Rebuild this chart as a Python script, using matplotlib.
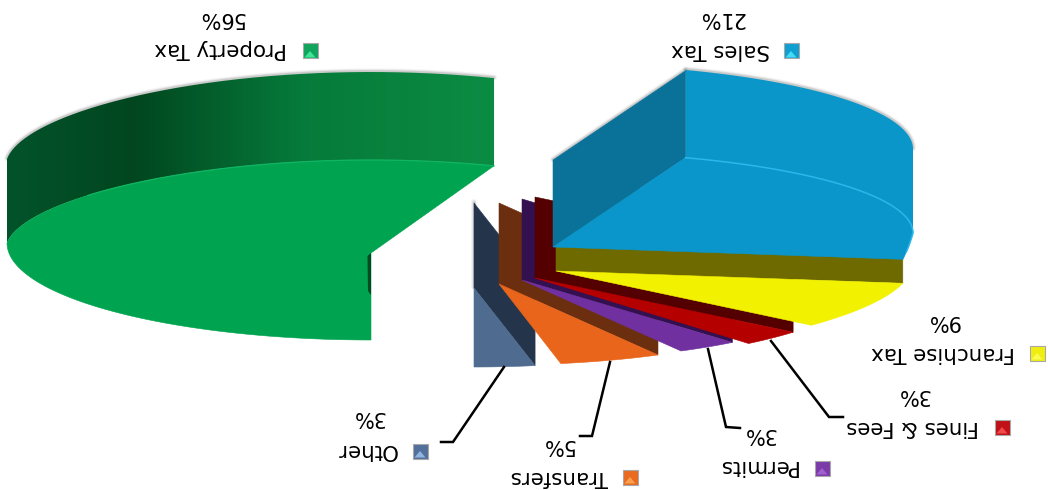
import numpy as np
import matplotlib
matplotlib.use("Agg")
import matplotlib.pyplot as plt
from matplotlib.colors import LinearSegmentedColormap
from matplotlib.patches import Polygon, Rectangle, PathPatch
from matplotlib.path import Path

# Revenue shares, in the order the slices run around the pie
categories = ["Property Tax", "Sales Tax", "Franchise Tax", "Fines & Fees", "Permits", "Transfers", "Other"]
shares = [56, 21, 9, 3, 3, 5, 3]

face_colors = ["#00a34f", "#0a96cb", "#f2f200", "#b50000", "#7030a0", "#e8651b", "#4f6b8f"]
wall_colors = ["#014a22", "#0a7199", "#6e6a00", "#540000", "#33104f", "#6b2f10", "#24344a"]
key_colors = ["#10a45c", "#0f9fd0", "#f0ee10", "#c01018", "#7a3aa8", "#ea6a20", "#51709a"]
key_light = ["#3fe596", "#43dcf5", "#fbfb50", "#f04a4a", "#a060d0", "#f8a050", "#8fb4e0"]

# Slice geometry in figure pixels: apex x, apex y, ellipse centre y, radius,
# back and front vertical radii, back and front horizontal foreshortening
geometry = {
    "Property Tax": (371, 253, 243, 364, 83, 97, 0.088, 0.0),
    "Sales Tax": (553, 247, 233, 360, 81, 210, 0.0, 0.16),
    "Franchise Tax": (556, 271, 273, 354, 82, 82, 0.0, 0.1),
    "Fines & Fees": (535, 278, 278, 335, 85, 85, 0.0, 0.0),
    "Permits": (522, 280, 280, 330, 81, 81, 0.0, 0.0),
    "Transfers": (499, 284, 284, 330, 81, 81, 0.0, 0.0),
    "Other": (474, 288, 288, 326, 79, 79, 0.0, 0.0),
}
apex_lift = {"Sales Tax": 87, "Franchise Tax": 85, "Fines & Fees": 81, "Permits": 81, "Transfers": 81, "Other": 85}

# Text and key positions in figure pixels: name, percentage, key
name_xy = {"Property Tax": (221, 49), "Sales Tax": (721, 50), "Franchise Tax": (943, 353),
           "Fines & Fees": (913, 427), "Permits": (757, 466), "Transfers": (559, 477), "Other": (366, 450)}
pct_xy = {"Property Tax": (221, 18), "Sales Tax": (721, 18), "Franchise Tax": (943, 321),
          "Fines & Fees": (913, 395), "Permits": (759, 434), "Transfers": (558, 445), "Other": (368, 417)}
key_xy = {"Property Tax": (310, 51), "Sales Tax": (791, 51), "Franchise Tax": (1037, 353),
          "Fines & Fees": (1002, 427), "Permits": (822, 468), "Transfers": (630, 477), "Other": (420, 451)}
leaders = {"Fines & Fees": [(771, 341), (829, 417), (843, 417)],
           "Permits": [(708, 349), (726, 427), (740, 428)],
           "Transfers": [(610, 362), (592, 436), (580, 436)],
           "Other": [(504, 367), (453, 442), (441, 442)]}

fig = plt.figure(figsize=(10.48, 4.9), dpi=100)
ax = fig.add_axes([0, 0, 1, 1])


def rim_point(name, theta, lift=0.0):
    """Point on a slice's outer edge; theta runs clockwise from straight up."""
    ax_x, _, cy, radius, ry_back, ry_front, squeeze_back, squeeze_front = geometry[name]
    s, c = np.sin(np.radians(theta)), np.cos(np.radians(theta))
    ry = ry_back if c > 0 else ry_front
    squeeze = squeeze_back if c > 0 else squeeze_front
    return ax_x + radius * s * (1 - squeeze * abs(c)), cy - ry * c - lift


def arc(name, start, stop, lifted=False):
    points = []
    for theta in np.linspace(start, stop, 160):
        lift = 84 + 4 * np.cos(np.radians(theta)) if lifted else 0.0
        points.append(rim_point(name, theta, lift))
    return points


def halo(points, z):
    xs, ys = zip(*points)
    for width, alpha in ((4.5, 0.06), (3, 0.1), (1.8, 0.18)):
        ax.plot(xs, np.array(ys) - 0.6, color="#555555", lw=width, alpha=alpha, zorder=z,
                solid_capstyle="round")


# Slice boundaries in degrees, starting straight down and wrapping past the top
edges = (180 + 360 * np.cumsum([0] + shares) / sum(shares))
spans = {name: (edges[i], edges[i + 1]) for i, name in enumerate(categories)}

# Slices are painted from the one beside the gap round to the nearest one
paint_order = ["Other", "Transfers", "Permits", "Fines & Fees", "Franchise Tax", "Sales Tax"]
z = 5
for name in paint_order:
    i = categories.index(name)
    start, stop = spans[name]
    ax_x, ax_y = geometry[name][:2]
    near = rim_point(name, start)
    lift = apex_lift[name]
    # Side wall along the leading cut
    wall = [(ax_x, ax_y), near, (near[0], near[1] - lift), (ax_x, ax_y - lift)]
    if name == "Sales Tax":
        # The outer wall only shows as far as the widest point of the ellipse
        widest = 450
        halo(arc(name, start, widest, lifted=True), z)
        halo([(ax_x, ax_y - lift), (near[0], near[1] - lift)], z)
        rim = arc(name, start, widest) + arc(name, start, widest, lifted=True)[::-1]
        ax.add_patch(Polygon(rim, closed=True, fc="#0a96c8", ec="none", zorder=z + 1))
    if name == "Other":
        halo([(ax_x - 0.5, ax_y - lift), (ax_x - 0.5, ax_y)], z)
    ax.add_patch(Polygon(wall, closed=True, fc=wall_colors[i], ec=wall_colors[i], lw=0.4, zorder=z + 1))
    face = [(ax_x, ax_y)] + arc(name, start, stop)
    ax.add_patch(Polygon(face, closed=True, fc=face_colors[i], ec=face_colors[i], lw=0.4, zorder=z + 2))
    if name == "Sales Tax":
        xs, ys = zip(*arc(name, start, stop - 2))
        ax.plot(xs, ys, color="#2bb7ea", lw=1.1, zorder=z + 3)
    z += 4

# Property Tax: shaded outer wall on the far side plus the large top face
name = "Property Tax"
start, stop = spans[name]
ax_x, ax_y = geometry[name][:2]
halo(arc(name, 270, stop, lifted=True), 1)
rim = arc(name, 270, stop) + arc(name, 270, stop, lifted=True)[::-1]
shade = LinearSegmentedColormap.from_list("rim", [(0.0, "#03532a"), (0.26, "#01461f"), (0.6, "#067a3a"), (1.0, "#0b8c43")])
image = ax.imshow(np.linspace(0, 1, 256)[None, :], cmap=shade, extent=(7, 495, 340, 60), aspect="auto", zorder=2)
image.set_clip_path(PathPatch(Path(rim + [rim[0]]), transform=ax.transData))
face = [(ax_x, ax_y)] + arc(name, start, stop)
ax.add_patch(Polygon(face, closed=True, fc=face_colors[0], ec=face_colors[0], lw=0.4, zorder=3))
xs, ys = zip(*arc(name, 305, stop))
ax.plot(xs, ys, color="#10b463", lw=0.9, zorder=4)
ax.add_patch(Polygon([(ax_x, ax_y), (ax_x - 3.5, ax_y + 3), (ax_x - 3, ax_y + 38), (ax_x, ax_y + 42)],
                     closed=True, fc=wall_colors[0], ec="none", zorder=4))

# Names, percentages, keys and leader lines; the whole slide reads upside down
text_style = dict(rotation=180, ha="center", va="center", family="DejaVu Sans", color="#000000", zorder=60)
for i, name in enumerate(categories):
    ax.text(*name_xy[name], name, fontsize=15.4, **text_style)
    ax.text(*pct_xy[name], f"{shares[i]}%", fontsize=15, **text_style)
    kx, ky = key_xy[name]
    ax.add_patch(Rectangle((kx - 7.5, ky - 7.5), 15, 15, fc=key_colors[i], ec="#a8a8a8", lw=0.8, zorder=60))
    ax.add_patch(Polygon([(kx - 5.5, ky + 6.5), (kx, ky), (kx + 5.5, ky + 6.5)], closed=True,
                         fc=key_light[i], ec="none", zorder=61))
for path in leaders.values():
    xs, ys = zip(*path)
    ax.plot(xs, ys, color="black", lw=1.8, solid_joinstyle="miter", zorder=55)

ax.set_xlim(0, 1048)
ax.set_ylim(490, 0)
ax.axis("off")
fig.savefig("out.png", dpi=100, facecolor="white")
